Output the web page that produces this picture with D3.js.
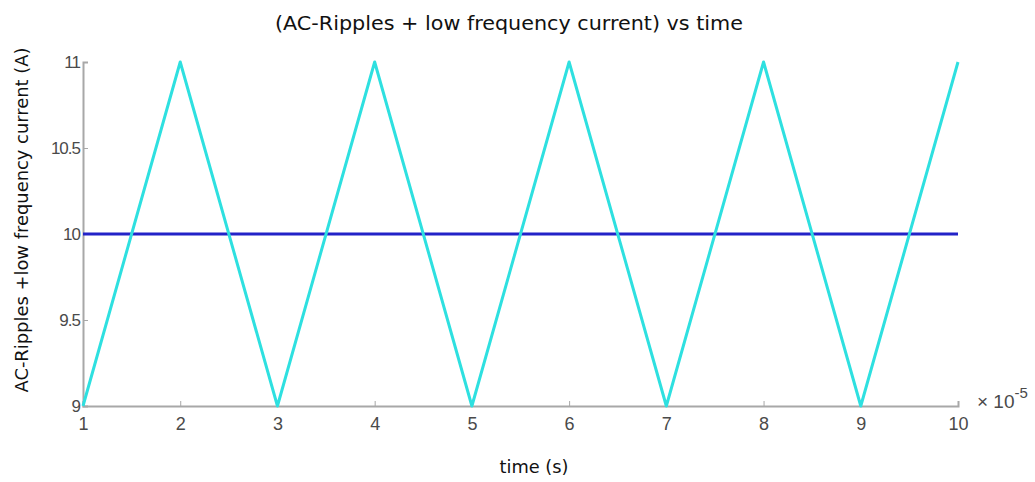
<!DOCTYPE html>
<html>
<head>
<meta charset="utf-8">
<script src="https://cdn.jsdelivr.net/npm/d3@7"></script>
<style>
  html, body { margin: 0; padding: 0; background: #ffffff; }
  svg { display: block; }
</style>
</head>
<body>
<svg id="chart" width="1035" height="482"></svg>
<script>
// ---- data (time in units of 1e-5 s) ----
const rippleTime = [1, 2, 3, 4, 5, 6, 7, 8, 9, 10];
const rippleCurrent = [9, 11, 9, 11, 9, 11, 9, 11, 9, 11];
const dcTime = [1, 10];
const dcCurrent = [10, 10];
const xTicks = [1, 2, 3, 4, 5, 6, 7, 8, 9, 10];
const yTicks = [9, 9.5, 10, 10.5, 11];
const yTickLabels = ["9", "9.5", "10", "10.5", "11"];

const svg = d3.select("#chart");
const margin = { left: 83, right: 1035 - 958, top: 62, bottom: 482 - 406 };
const W = 1035, H = 482;

const x = d3.scaleLinear().domain([1, 10]).range([margin.left, W - margin.right]);
const y = d3.scaleLinear().domain([9, 11]).range([H - margin.bottom, margin.top]);

const axisColor = "#a8a8a8";
const tickTextColor = "#4a4a4a";

// x axis (ticks inward)
const xAxis = svg.append("g")
  .attr("transform", `translate(0,${y(9)})`)
  .call(d3.axisBottom(x).tickValues(xTicks).tickSizeInner(-5).tickSizeOuter(-5).tickPadding(11));
xAxis.select(".domain").attr("stroke", axisColor).attr("stroke-width", 2);
xAxis.selectAll(".tick line").attr("stroke", axisColor).attr("stroke-width", 1);
xAxis.selectAll(".tick text")
  .attr("fill", tickTextColor)
  .attr("font-family", "Liberation Sans, Arial, sans-serif")
  .attr("font-size", 18);

// y axis (ticks inward)
const yAxis = svg.append("g")
  .attr("transform", `translate(${x(1)},0)`)
  .call(d3.axisLeft(y).tickValues(yTicks).tickFormat((d, i) => yTickLabels[i])
    .tickSizeInner(-5).tickSizeOuter(-5).tickPadding(3));
yAxis.select(".domain").attr("stroke", axisColor).attr("stroke-width", 2);
yAxis.selectAll(".tick line").attr("stroke", axisColor).attr("stroke-width", 1);
yAxis.selectAll(".tick text")
  .attr("fill", tickTextColor)
  .attr("font-family", "Liberation Sans, Arial, sans-serif")
  .attr("font-size", 17)
  .attr("letter-spacing", "-1px");

// lines
const line = d3.line().x(d => x(d[0])).y(d => y(d[1]));

svg.append("path")
  .datum(dcTime.map((t, i) => [t, dcCurrent[i]]))
  .attr("d", line)
  .attr("fill", "none")
  .attr("stroke", "#2323c8")
  .attr("stroke-width", 3);

svg.append("path")
  .datum(rippleTime.map((t, i) => [t, rippleCurrent[i]]))
  .attr("d", line)
  .attr("fill", "none")
  .attr("stroke", "#2ee0e0")
  .attr("stroke-width", 3)
  .attr("stroke-linejoin", "round");

// exponent label
const expo = svg.append("text")
  .attr("x", 977).attr("y", 408)
  .attr("fill", tickTextColor)
  .attr("font-family", "Liberation Sans, Arial, sans-serif")
  .attr("font-size", 19);
expo.append("tspan").text("\u00d7 10");
expo.append("tspan").attr("dy", -10).attr("font-size", 15).text("-5");

// title
svg.append("text")
  .attr("x", 509).attr("y", 30)
  .attr("text-anchor", "middle")
  .attr("fill", "#111111")
  .attr("font-family", "DejaVu Sans, Verdana, sans-serif")
  .attr("font-size", 20)
  .attr("textLength", 468)
  .attr("lengthAdjust", "spacingAndGlyphs")
  .text("(AC-Ripples + low frequency current) vs time");

// x label
svg.append("text")
  .attr("x", 534).attr("y", 473)
  .attr("text-anchor", "middle")
  .attr("fill", "#111111")
  .attr("font-family", "DejaVu Sans, Verdana, sans-serif")
  .attr("font-size", 18)
  .attr("textLength", 69)
  .attr("lengthAdjust", "spacingAndGlyphs")
  .text("time (s)");

// y label
svg.append("text")
  .attr("transform", "translate(28,220) rotate(-90)")
  .attr("text-anchor", "middle")
  .attr("fill", "#111111")
  .attr("font-family", "DejaVu Sans, Verdana, sans-serif")
  .attr("font-size", 18)
  .attr("textLength", 345)
  .attr("lengthAdjust", "spacingAndGlyphs")
  .text("AC-Ripples +low frequency current (A)");
</script>
</body>
</html>
